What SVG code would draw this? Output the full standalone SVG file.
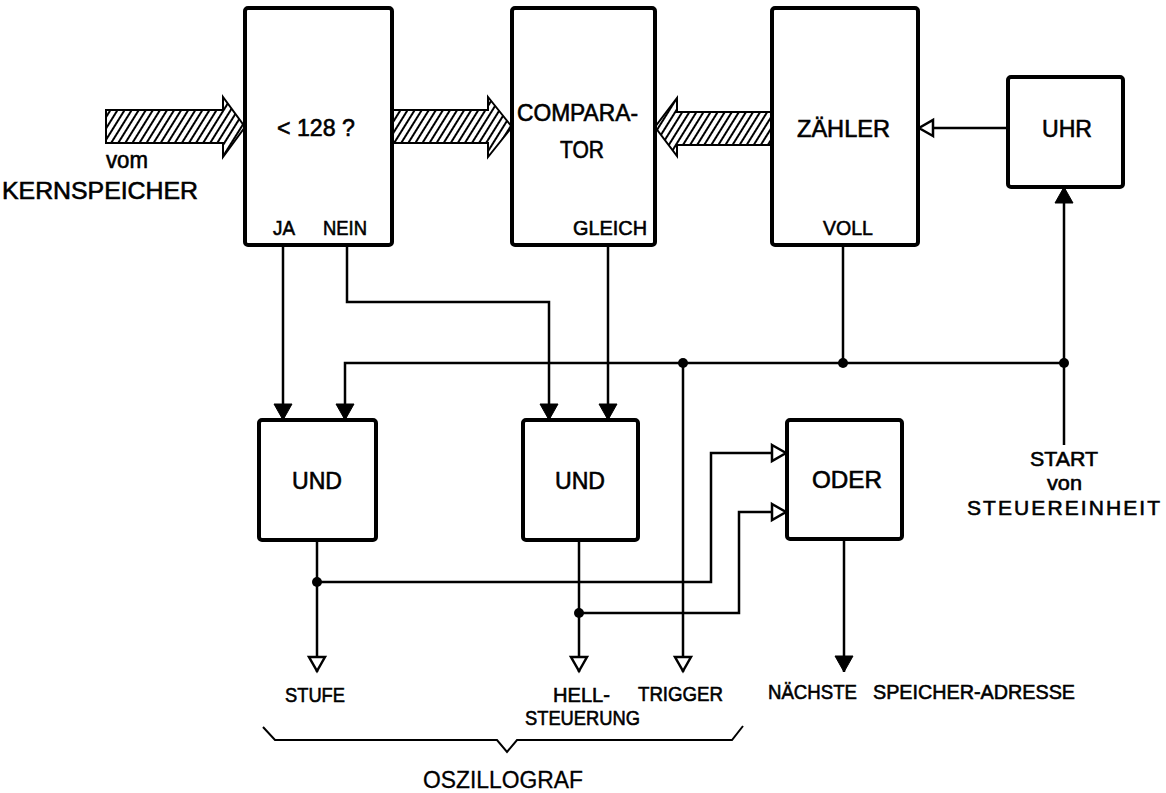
<svg xmlns="http://www.w3.org/2000/svg" width="1166" height="793" viewBox="0 0 1166 793">
<style>
.box{fill:#fff;stroke:#000;stroke-width:4;}
.ln{fill:none;stroke:#000;stroke-width:2.5;}
.hatch{fill:url(#hp);stroke:#000;stroke-width:2;stroke-linejoin:miter;}
.t{font-family:"Liberation Sans",Arial,sans-serif;fill:#000;stroke:#000;stroke-width:0.6;}
.L{font-size:24px;}
.S{font-size:21px;}
.dot{fill:#000;}
</style>
<defs>
<pattern id="hp" width="6" height="6" patternUnits="userSpaceOnUse" patternTransform="rotate(32)">
<rect width="6" height="6" fill="#fff"/>
<line x1="2" y1="0" x2="2" y2="6" stroke="#000" stroke-width="2"/>
</pattern>
<marker id="af" markerUnits="userSpaceOnUse" viewBox="0 0 16 18" refX="16" refY="9" markerWidth="16" markerHeight="18" orient="auto" overflow="visible">
<path d="M0,0 L16,9 L0,18 Z" fill="#000" stroke="#000" stroke-width="1"/>
</marker>
<marker id="ao" markerUnits="userSpaceOnUse" viewBox="0 0 16 18" refX="16" refY="9" markerWidth="16" markerHeight="18" orient="auto" overflow="visible">
<path d="M1,1 L15,9 L1,17 Z" fill="#fff" stroke="#000" stroke-width="2.5" stroke-linejoin="miter"/>
</marker>
</defs>
<rect width="1166" height="793" fill="#fff"/>

<g id="buses">
<polygon class="hatch" points="106,110 223,110 223,97 245,127 223,157 223,143 106,143"/>
<polygon class="hatch" points="392,110 488,110 488,97 512,127 488,157 488,143 392,143"/>
<polygon class="hatch" points="772,112 677,112 677,98 655,127 677,156 677,145 772,145"/>
</g>

<g id="connectors">
<path class="ln" d="M283,245 V420" marker-end="url(#af)"/>
<path class="ln" d="M347,245 V302 H549 V420" marker-end="url(#af)"/>
<path class="ln" d="M608,245 V420" marker-end="url(#af)"/>
<path class="ln" d="M1064,363 H345 V420" marker-end="url(#af)"/>
<path class="ln" d="M843,245 V363"/>
<path class="ln" d="M683,363 V672" marker-end="url(#ao)"/>
<path class="ln" d="M1064,445 V187" marker-end="url(#af)"/>
<path class="ln" d="M1008,128 H918" marker-end="url(#ao)"/>
<path class="ln" d="M317,540 V672" marker-end="url(#ao)"/>
<path class="ln" d="M317,582 H711 V453 H787" marker-end="url(#ao)"/>
<path class="ln" d="M579,540 V672" marker-end="url(#ao)"/>
<path class="ln" d="M579,613 H739 V512 H787" marker-end="url(#ao)"/>
<path class="ln" d="M844,539 V672" marker-end="url(#af)"/>
<circle class="dot" cx="683" cy="363" r="5"/>
<circle class="dot" cx="843" cy="363" r="5"/>
<circle class="dot" cx="1064" cy="363" r="5"/>
<circle class="dot" cx="317" cy="582" r="5"/>
<circle class="dot" cx="579" cy="613" r="5"/>
</g>

<g id="n-lt128">
<rect class="box" x="245" y="8" width="147" height="237" rx="3"/>
<text class="t L" x="277" y="136" textLength="78" lengthAdjust="spacingAndGlyphs">&lt; 128 ?</text>
<text class="t S" x="273" y="235" textLength="22" lengthAdjust="spacingAndGlyphs">JA</text>
<text class="t S" x="323" y="235" textLength="44" lengthAdjust="spacingAndGlyphs">NEIN</text>
</g>
<g id="n-comparator">
<rect class="box" x="512" y="8" width="143" height="237" rx="3"/>
<text class="t L" x="517" y="121" textLength="121" lengthAdjust="spacingAndGlyphs">COMPARA-</text>
<text class="t L" x="560" y="158" textLength="44" lengthAdjust="spacingAndGlyphs">TOR</text>
<text class="t S" x="573" y="235" textLength="74" lengthAdjust="spacingAndGlyphs">GLEICH</text>
</g>
<g id="n-zaehler">
<rect class="box" x="772" y="8" width="146" height="237" rx="3"/>
<text class="t L" x="797" y="137" textLength="93" lengthAdjust="spacingAndGlyphs">ZÄHLER</text>
<text class="t S" x="823" y="235" textLength="50" lengthAdjust="spacingAndGlyphs">VOLL</text>
</g>
<g id="n-uhr">
<rect class="box" x="1008" y="77" width="115" height="110" rx="3"/>
<text class="t L" x="1042" y="137" textLength="50" lengthAdjust="spacingAndGlyphs">UHR</text>
</g>
<g id="n-und1">
<rect class="box" x="259" y="420" width="117" height="120" rx="3"/>
<text class="t L" x="292" y="489" textLength="50" lengthAdjust="spacingAndGlyphs">UND</text>
</g>
<g id="n-und2">
<rect class="box" x="523" y="420" width="115" height="120" rx="3"/>
<text class="t L" x="555" y="489" textLength="50" lengthAdjust="spacingAndGlyphs">UND</text>
</g>
<g id="n-oder">
<rect class="box" x="787" y="420" width="115" height="119" rx="3"/>
<text class="t L" x="812" y="488" textLength="70" lengthAdjust="spacingAndGlyphs">ODER</text>
</g>

<g id="labels">
<text class="t L" x="106" y="168" textLength="42" lengthAdjust="spacingAndGlyphs">vom</text>
<text class="t L" x="2" y="199" textLength="196" lengthAdjust="spacingAndGlyphs">KERNSPEICHER</text>
<text class="t S" x="1030" y="466" textLength="68" lengthAdjust="spacingAndGlyphs">START</text>
<text class="t S" x="1047" y="490" textLength="35" lengthAdjust="spacingAndGlyphs">von</text>
<text class="t S" x="967" y="515" textLength="193">STEUEREINHEIT</text>
<text class="t S" x="285" y="702" textLength="60" lengthAdjust="spacingAndGlyphs">STUFE</text>
<text class="t S" x="553" y="702" textLength="57" lengthAdjust="spacingAndGlyphs">HELL-</text>
<text class="t S" x="525" y="725" textLength="115" lengthAdjust="spacingAndGlyphs">STEUERUNG</text>
<text class="t S" x="638" y="701" textLength="85" lengthAdjust="spacingAndGlyphs">TRIGGER</text>
<text class="t S" x="768" y="699" textLength="89" lengthAdjust="spacingAndGlyphs">NÄCHSTE</text>
<text class="t S" x="873" y="699" textLength="202" lengthAdjust="spacingAndGlyphs">SPEICHER-ADRESSE</text>
<path class="ln" style="stroke-width:2" d="M263,727 L275,740 H497 L507,752 L517,740 H732 L743,726"/>
<text class="t" x="423" y="788" textLength="160" lengthAdjust="spacingAndGlyphs" style="font-size:23px;stroke-width:0.3">OSZILLOGRAF</text>
</g>
</svg>
